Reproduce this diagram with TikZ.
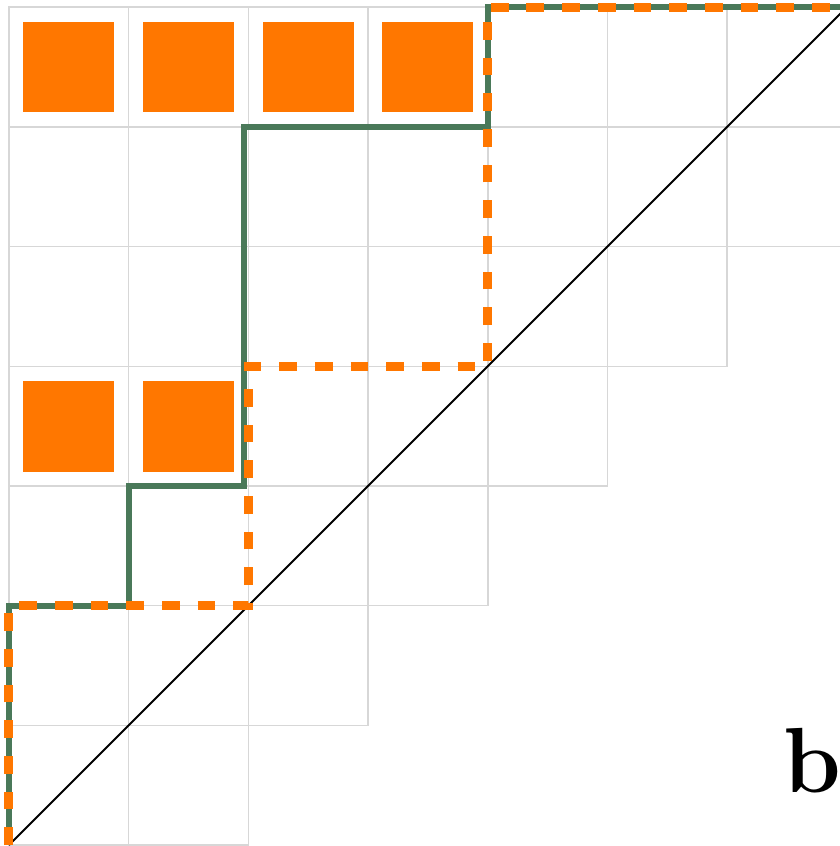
\documentclass[tikz,border=0pt]{standalone}
\usepackage{xcolor}
\definecolor{pathorange}{RGB}{255,119,0}
\definecolor{pathgreen}{RGB}{74,121,89}
\definecolor{gridgray}{RGB}{215,215,215}
\begin{document}
\begin{tikzpicture}[x=1cm,y=1cm,
  cellline/.style={draw=gridgray,line width=0.35pt},
  diag/.style={draw=black,line width=0.45pt},
  marked/.style={fill=pathorange,draw=none},
  greenpath/.style={draw=pathgreen,line width=1.45pt},
  orangepath/.style={draw=pathorange,line width=2.15pt,dash pattern=on 0.148cm off 0.15cm},
  tag/.style={font=\fontsize{22}{22}\selectfont\bfseries,inner sep=0pt}
]
\useasboundingbox (-0.075,-0.008) rectangle (6.942,7.060);

% staircase grid: row j holds columns 0..j+1
\foreach \j in {0,...,6}{
  \pgfmathtruncatemacro{\last}{min(\j+1,6)}
  \foreach \i in {0,...,\last}{
    \path[cellline] (\i,\j) rectangle ++(1,1);
  }
}

% diagonal
\coordinate (o) at (0,0);
\coordinate (t) at (7,7);
\draw[diag] (o) -- (t);

% marked cells
\foreach \i/\j in {0/6,1/6,2/6,3/6,0/3,1/3}{
  \path[marked] (\i+0.12,\j+0.12) rectangle ++(0.76,0.76);
}

% lattice paths
\draw[greenpath] (o) -- (0,2) -- (1,2) -- (1,3) -- (1.96,3) -- (1.96,6) -- (4,6) -- (4,7) -- (t);
\draw[orangepath] (o) -- (0,2) -- (2,2) -- (2,4) -- (4,4) -- (4,7) -- (t);

\node[tag,anchor=base west] (lbl) at (6.46,0.443) {b};
\end{tikzpicture}
\end{document}
